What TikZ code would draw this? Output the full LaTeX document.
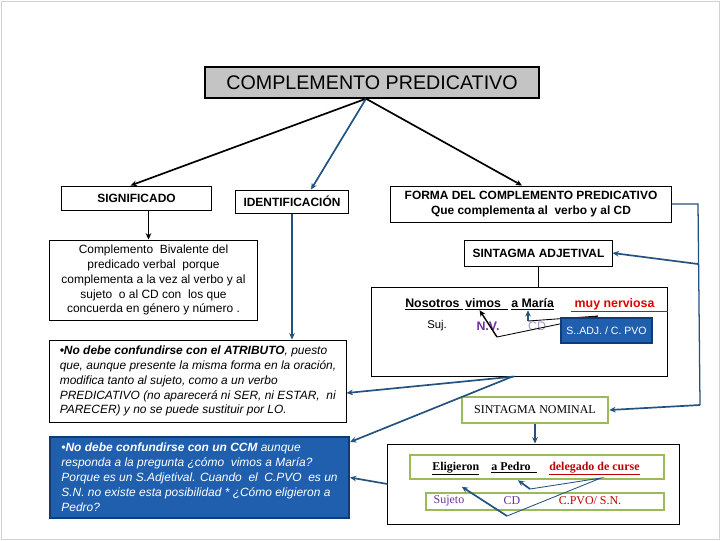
\documentclass[tikz,border=0pt]{standalone}
\usepackage{fontspec}
\setmainfont{Liberation Sans}
\newfontfamily\timesfont{Liberation Serif}
\usetikzlibrary{arrows.meta}

\definecolor{lineblue}{HTML}{24527F}
\definecolor{boxblue}{HTML}{1F5FAE}
\definecolor{boxedge}{HTML}{0F3C78}
\definecolor{titlegray}{HTML}{C4C4C4}
\definecolor{olivegreen}{HTML}{9BBB59}
\definecolor{purp}{HTML}{7030A0}
\definecolor{lavender}{HTML}{A597C8}
\definecolor{darkred}{HTML}{C00000}
\definecolor{brightred}{HTML}{E00000}

\newcommand{\txtsize}{\fontsize{8.5}{10.6}\selectfont}
\newcommand{\wordsize}{\fontsize{8.8}{10.5}\selectfont}

\tikzset{
  cpbox/.style={draw, line width=0.7pt, fill=white, inner sep=0pt, font=\txtsize},
  greenbox/.style={draw=olivegreen, line width=1.8pt, fill=white, inner sep=0pt},
  bluebox/.style={draw=boxedge, line width=1.3pt, fill=boxblue, text=white, inner sep=0pt},
  word/.style={inner sep=0pt, anchor=base west, font=\wordsize\bfseries},
  serifword/.style={inner sep=0pt, anchor=base west, font=\timesfont\fontsize{8.5}{10}\selectfont\bfseries},
  link/.style={-{Stealth[length=4.5pt,width=4pt]}, line width=1.2pt},
  bluelink/.style={link, draw=lineblue},
  thinline/.style={line width=0.6pt}
}

\begin{document}
\begin{tikzpicture}[x=0.025cm, y=-0.025cm]
  \useasboundingbox (0,0) rectangle (720,540);
  \draw[gray!35] (1,1) rectangle (719,539);

  % top row
  \node[cpbox, fill=titlegray, line width=1pt, minimum width=8.35cm, minimum height=0.775cm,
        font=\fontsize{14}{16}\selectfont] (title) at (372,82.5) {COMPLEMENTO PREDICATIVO};
  \node[cpbox, minimum width=3.725cm, minimum height=0.6cm, font=\txtsize\bfseries] (signif) at (136.5,198) {SIGNIFICADO};
  \node[cpbox, minimum width=2.8cm, minimum height=0.575cm, font=\txtsize\bfseries] (ident) at (292,201.5) {IDENTIFICACIÓN};
  \node[cpbox, minimum width=7cm, minimum height=0.9cm, align=center, font=\txtsize\bfseries] (forma) at (531,204)
    {FORMA DEL COMPLEMENTO PREDICATIVO\\Que complementa al\ \ verbo y al CD};

  % left column
  \node[cpbox, minimum width=5.175cm, minimum height=2cm, align=center] (compl) at (153.5,280)
    {Complemento\ \ Bivalente del\\predicado verbal\ \ porque\\complementa a la vez al verbo y al\\
     sujeto\ \ o al CD con\ \ los que\\concuerda en género y número .};
  \node[cpbox, minimum width=7.4cm, minimum height=2.05cm, align=left, font=\txtsize\itshape] (atrib) at (198,381)
    {{\bfseries •No debe confundirse con el ATRIBUTO}, puesto\\
     que, aunque presente la misma forma en la oración,\\
     modifica tanto al sujeto, como a un verbo\\
     PREDICATIVO (no aparecerá ni SER,\ ni ESTAR,\ \ ni\\
     PARECER) y no se puede sustituir por LO.};
  \node[bluebox, minimum width=7.475cm, minimum height=2.025cm, align=left, font=\txtsize\itshape] (ccm) at (199.5,477.5)
    {{\bfseries •No debe confundirse con un CCM} aunque\\
     responda a la pregunta ¿cómo\ \ vimos a María?\\
     Porque es un S.Adjetival. Cuando\ \ el\ \ C.PVO\ \ es un\\
     S.N. no existe esta posibilidad * ¿Cómo eligieron a\\
     Pedro?};

  % right column: adjective phrase
  \node[cpbox, minimum width=3.675cm, minimum height=0.65cm, font=\txtsize\bfseries] (sadj) at (538.5,253) {SINTAGMA ADJETIVAL};
  \node[cpbox, minimum width=7.375cm, minimum height=2.225cm] (sent1) at (519.5,331.5) {};
  \node[word] (nos) at (405,307) {\underline{Nosotros\ }};
  \node[word] (vimos) at (465,307) {\underline{vimos\ \ }};
  \node[word] (amaria) at (511,307) {\underline{a María}};
  \node[word, text=brightred] (muy) at (571,307) {\underline{\ muy nerviosa\ \ \ \ }};
  \node[font=\fontsize{8}{10}\selectfont] (suj) at (437,326) {Suj.};
  \node[font=\wordsize\bfseries, text=purp] (nv) at (488,326) {N.V.};
  \node[font=\wordsize, text=lavender] (cd) at (537,326) {CD};

  % right column: noun phrase
  \node[greenbox, minimum width=3.65cm, minimum height=0.65cm,
        font=\timesfont\fontsize{8.5}{10}\selectfont] (snom) at (535,410) {SINTAGMA NOMINAL};
  \node[cpbox, minimum width=7.275cm, minimum height=2cm] (sent2) at (533.5,484) {};
  \node[greenbox, minimum width=6.35cm, minimum height=0.6cm] (row1) at (537,467) {};
  \node[greenbox, line width=1.5pt, minimum width=5.95cm, minimum height=0.425cm] (row2) at (545,501.5) {};
  \node[serifword] (elig) at (432,470) {\underline{Eligieron}};
  \node[serifword] (apedro) at (491,470) {\underline{a Pedro\ \ }};
  \node[serifword, text=darkred] (deleg) at (549,470) {\underline{delegado de curse}};
  \node[font=\timesfont\fontsize{8.5}{10}\selectfont, text=purp] (sujeto) at (449,501) {Sujeto};
  \node[font=\timesfont\fontsize{8.5}{10}\selectfont, text=purp] (cdtwo) at (512,501) {CD};
  \node[font=\timesfont\fontsize{8.5}{10}\selectfont, text=darkred] (cpvo) at (590,501) {C.PVO/ S.N.};

  % arrows from the title
  \coordinate (hub) at ([xshift=-0.15cm]title.south);
  \draw[link] (hub) -- ([xshift=-0.15cm]signif.north);
  \draw[bluelink] (hub) -- ([xshift=0.475cm]ident.north);
  \draw[link] (hub) -- ([xshift=-0.225cm]forma.north);
  \draw[link] ([xshift=0.3cm]signif.south) -- ([xshift=0.3cm]signif.south |- compl.north);
  \draw[bluelink] (ident.south) -- (ident.south |- atrib.north);

  % bracket on the right
  \coordinate (brtop) at (698,204);
  \coordinate (brmid) at (698,264);
  \coordinate (brbot) at (700,405);
  \draw[line width=0.9pt, lineblue] (forma.east) -- (brtop) -- (brbot);
  \draw[bluelink] (brmid) -- (sadj.east);
  \draw[bluelink] (brbot) -- (snom.east);
  \draw[thinline] (sadj.south) -- (sadj.south |- sent1.north);
  \draw[bluelink] (snom.south) -- (snom.south |- sent2.north);

  % marks inside the first sentence
  \coordinate (pj) at (598,316);
  \coordinate (nvj) at (497,337);
  \coordinate (cdj) at (528,321);
  \draw[thinline] (pj) -- (nvj);
  \draw[link, line width=1pt] (nvj) -- ([xshift=-0.175cm]vimos.south);
  \draw[thinline] (pj) -- (cdj);
  \draw[bluelink, line width=0.9pt] (cdj) -- (cdj |- amaria.south);
  \node[bluebox, minimum width=2.275cm, minimum height=0.625cm, font=\fontsize{7.5}{9}\selectfont] (pvo) at (606.5,330.5) {S..ADJ. / C. PVO};

  % marks inside the second sentence
  \coordinate (sj) at (507,516);
  \coordinate (dj) at (601,478);
  \coordinate (pjtwo) at (530,489);
  \draw[bluelink] (sj) -- ([shift={(6,11)}]elig.south);
  \draw[thinline, lineblue] (sj) -- (dj) -- (pjtwo);
  \draw[bluelink] (pjtwo) -- ([shift={(4,7)}]apedro.south);

  % links back to the left boxes
  \draw[bluelink] ([xshift=-0.125cm]sent1.south) -- ([yshift=-0.3cm]atrib.east);
  \draw[bluelink] ([xshift=-0.175cm]sent1.south) -- ([yshift=-0.15cm]ccm.north east);
  \draw[bluelink] (sent2.west) -- (ccm.east);
\end{tikzpicture}
\end{document}
